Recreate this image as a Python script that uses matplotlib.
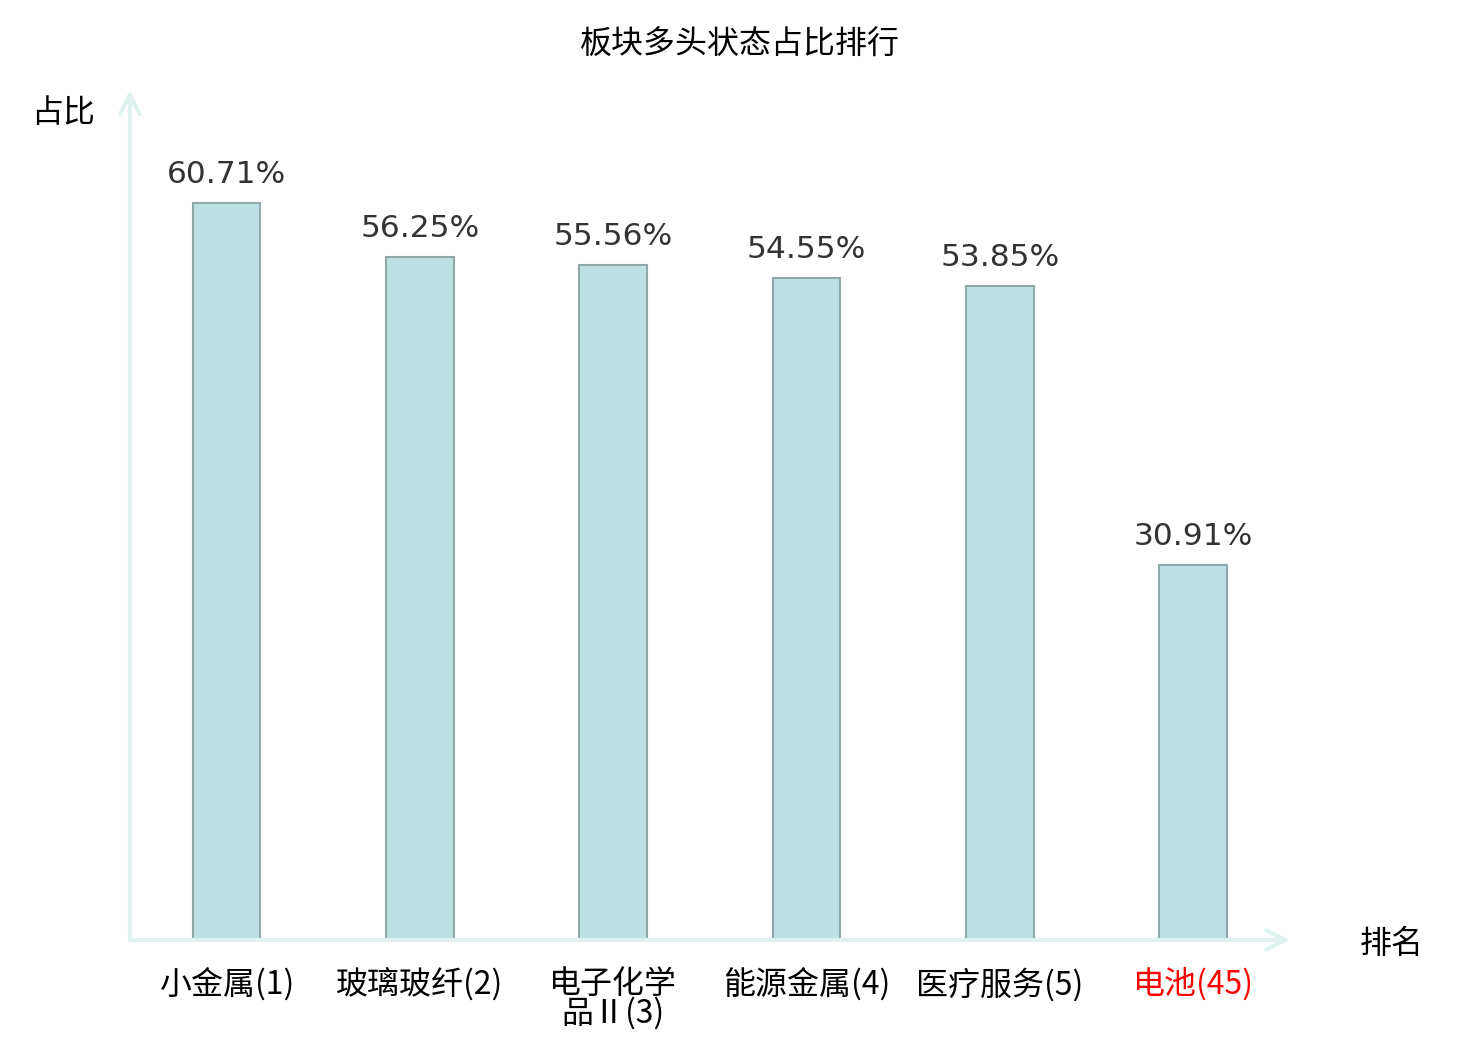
import matplotlib
matplotlib.use("Agg")
import matplotlib.pyplot as plt

# board names with rank, and the share of stocks in a bullish state (%)
boards = ["小金属(1)", "玻璃玻纤(2)", "电子化学\n品Ⅱ(3)", "能源金属(4)", "医疗服务(5)", "电池(45)"]
shares = [60.71, 56.25, 55.56, 54.55, 53.85, 30.91]
label_colors = ["black", "black", "black", "black", "black", "red"]

plt.rcParams["font.family"] = ["Noto Sans CJK SC", "DejaVu Sans"]

fig = plt.figure(figsize=(14.8, 10.4), dpi=100)
ax = fig.add_axes([0.0878, 0.0962, 0.7838, 0.8173])

x = list(range(len(boards)))
bars = ax.bar(x, shares, width=0.35, color="#bce0e3", edgecolor="#8fa9ab", linewidth=1.5)

for b, v in zip(bars, shares):
    ax.annotate(f"{v:.2f}%", (b.get_x() + b.get_width() / 2, v),
                xytext=(0, 10), textcoords="offset points",
                ha="center", va="bottom", fontsize=22.5, color="#333333",
                family="DejaVu Sans")

ax.set_xlim(-0.5, 5.5)
ax.set_ylim(0, 70)
ax.set_yticks([])
ax.set_xticks(x)
ax.set_xticklabels(boards, fontsize=23, linespacing=0.9)
for t, c in zip(ax.get_xticklabels(), label_colors):
    t.set_color(c)
ax.tick_params(axis="x", length=0, pad=20)
for s in ax.spines.values():
    s.set_visible(False)

# axis arrows
arrow_kw = dict(arrowstyle="->", color="#dff2ef", lw=3, mutation_scale=35,
                shrinkA=0, shrinkB=0)
ax.annotate("", xy=(0, 1), xytext=(0, 0), xycoords="axes fraction",
            textcoords="axes fraction", arrowprops=arrow_kw)
ax.annotate("", xy=(1, 0), xytext=(0, 0), xycoords="axes fraction",
            textcoords="axes fraction", arrowprops=arrow_kw)

fig.text(0.5, 1 - 45 / 1040, "板块多头状态占比排行", ha="center", va="center", fontsize=23)
fig.text(63 / 1480, 1 - 113 / 1040, "占比", ha="center", va="center", fontsize=23)
fig.text(1392 / 1480, 1 - 944 / 1040, "排名", ha="center", va="center", fontsize=23)

fig.savefig("out.png", dpi=100, facecolor="white")
